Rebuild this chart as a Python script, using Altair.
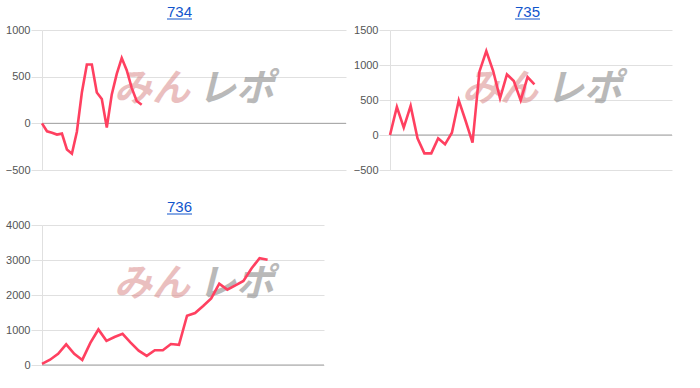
import altair as alt
import pandas as pd

# ---- data ----
names = ["734", "735", "736"]
v734 = [0, -85, -100, -120, -110, -280, -325, -90, 330, 630, 630, 330, 260, -45,
        310, 530, 700, 570, 380, 240, 200]
v735 = [0, 400, 105, 415, -48, -262, -262, -48, -133, 33, 495, 200, -110, 905,
        1200, 914, 524, 866, 771, 495, 828, 724]
v736 = [30, 150, 320, 590, 320, 145, 630, 1015, 690, 800, 890, 640, 410, 260,
        420, 420, 600, 575, 1407, 1483, 1684, 1904, 2325, 2153, 2278, 2402, 2756,
        3053, 3005]
ticks734 = [-500, 0, 500, 1000]
ticks735 = [-500, 0, 500, 1000, 1500]
ticks736 = [0, 1000, 2000, 3000, 4000]
xmax = [61, 41, 35]

LINE = "#ff4060"
GRID = "#e0e0e0"
FONT = "Liberation Sans"


def panel(name, vals, ticks, xm, w, h, anchor=False):
    df = pd.DataFrame({"i": list(range(len(vals))), "v": vals})
    xs = alt.Scale(domain=[0, xm], nice=False, zero=False)
    ys = alt.Scale(domain=[ticks[0], ticks[-1]], nice=False, zero=False)
    yaxis = alt.Axis(values=ticks, tickCount=len(ticks), title=None, grid=True,
                     gridColor=GRID, domain=True, domainColor=GRID, ticks=True,
                     tickSize=11, tickColor=GRID, labelPadding=1,
                     labelColor="#555", labelFontSize=11, labelFont=FONT,
                     format="d", labelOverlap=False, labelBound=False,
                     labelFlush=False)
    line = alt.Chart(df).mark_line(color=LINE, strokeWidth=2.6).encode(
        x=alt.X("i:Q", scale=xs, axis=None),
        y=alt.Y("v:Q", scale=ys, axis=yaxis),
    )
    zero = alt.Chart(pd.DataFrame({"z": [0]})).mark_rule(
        color="#a0a0a0", strokeWidth=1).encode(y=alt.Y("z:Q", scale=ys))
    tdf = pd.DataFrame({"t": [name]})
    title = alt.Chart(tdf).mark_text(
        font=FONT, fontSize=15, color="#1155cc", baseline="alphabetic",
        align="center").encode(text="t:N", x=alt.value(137.5), y=alt.value(-13))
    under = alt.Chart(tdf).mark_rule(color="#1155cc", strokeWidth=1).encode(
        x=alt.value(125), x2=alt.value(150), y=alt.value(-11))
    wdf = pd.DataFrame({"a": ["みん"], "b": ["レポ"]})
    wm1 = alt.Chart(wdf).mark_text(
        font="Noto Sans CJK JP", fontSize=38, fontWeight="bold",
        fontStyle="italic", color="#d98c8c", opacity=0.55, align="center",
        baseline="middle").encode(text="a:N", x=alt.value(110), y=alt.value(60))
    wm2 = alt.Chart(wdf).mark_text(
        font="Noto Sans CJK JP", fontSize=38, fontWeight="bold",
        fontStyle="italic", color="#8c8c8c", opacity=0.6, align="center",
        baseline="middle").encode(text="b:N", x=alt.value(194), y=alt.value(60))
    layers = [wm1, wm2, zero, line, title, under]
    if anchor:
        marker = alt.Chart(tdf).mark_rule(opacity=0, strokeWidth=0).encode(
            x=alt.value(-41.3), x2=alt.value(-41.3),
            y=alt.value(-29.3), y2=alt.value(-28))
        layers.append(marker)
    return alt.layer(*layers).properties(width=w, height=h)


a = panel(names[0], v734, ticks734, xmax[0], 304, 140, anchor=True)
b = panel(names[1], v735, ticks735, xmax[1], 282, 140)
c = panel(names[2], v736, ticks736, xmax[2], 282, 140)

chart = alt.concat(a, b, c, columns=2, spacing={"row": 55, "column": 44},
                   bounds="flush").properties(
    padding={"left": 0, "top": 0, "right": 0, "bottom": 0},
    background="white",
).configure_view(stroke=None)

chart.save("out.html", embed_options={"renderer": "svg", "actions": False})
